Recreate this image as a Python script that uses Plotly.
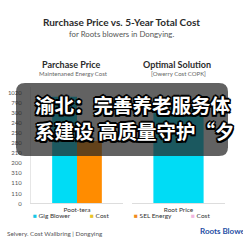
import plotly.graph_objects as go

# ---------------- data ----------------
left_category = ["Poot-tera"]
right_category = ["Root Price"]
gig_blower = [10.6]      # cyan bar, left panel (axis position units)
cost_left = [6.2]        # orange bar, left panel
root_price = [9.9]       # cyan bar, right panel
y_tick_positions = list(range(12))
y_tick_labels = ["0", "110", "110", "310", "200", "210", "280", "250", "240", "300", "790", "1020"]

title = "Rurchase Price vs. 5-Year Total Cost"
subtitle = "for Roots blowers in Dongying."
overlay_lines = ["渝北：完善养老服务体", "系建设 高质量守护“夕"]

CYAN = "#00dcf5"
ORANGE = "#ff8c00"
W = H = 243

def px(x):
    return x / W

def py(y):
    return 1 - y / H

fig = go.Figure()
fig.add_trace(go.Bar(x=left_category, y=gig_blower, marker_color=CYAN, showlegend=False,
                     xaxis="x", yaxis="y", marker_line_width=0))
fig.add_trace(go.Bar(x=left_category, y=cost_left, marker_color=ORANGE, showlegend=False,
                     xaxis="x", yaxis="y", marker_line_width=0))
fig.add_trace(go.Bar(x=right_category, y=root_price, marker_color=CYAN, showlegend=False,
                     xaxis="x2", yaxis="y2", marker_line_width=0))

yrange = [0, 11.59]
fig.update_layout(
    width=W, height=H, margin=dict(l=0, r=0, t=0, b=0),
    paper_bgcolor="white", plot_bgcolor="white",
    barmode="group", bargap=0.46, bargroupgap=0,
    showlegend=False,
    font=dict(family="Lato", color="#333"),
    xaxis=dict(domain=[px(31), px(123)], showgrid=False, zeroline=False,
               showline=True, linecolor="#dddddd", linewidth=1,
               tickfont=dict(size=6.5, color="#333"), ticks="", ticklen=0,
               anchor="y"),
    yaxis=dict(domain=[py(206), py(88)], range=yrange, showgrid=False, zeroline=False,
               showline=True, linecolor="#e6e6e6", linewidth=1,
               tickvals=y_tick_positions, ticktext=y_tick_labels,
               tickfont=dict(size=6, color="#555"),
               ticks="outside", ticklen=7, tickcolor="rgba(0,0,0,0)",
               anchor="x"),
    xaxis2=dict(domain=[px(132), px(225)], showgrid=False, zeroline=False,
                showline=True, linecolor="#dddddd", linewidth=1,
                tickfont=dict(size=6.5, color="#333"), ticks="", anchor="y2"),
    yaxis2=dict(domain=[py(206), py(88)], range=yrange, showgrid=False, zeroline=False,
                showline=False, showticklabels=False, anchor="x2"),
)

ann = []

def text(x, y, s, size, color="#333", bold=False, anchor="center", family="Lato"):
    ann.append(dict(x=px(x), y=py(y), xref="paper", yref="paper", text=s, showarrow=False,
                    xanchor=anchor, yanchor="middle",
                    font=dict(size=size, color=color, family=family,
                              weight=700 if bold else 400)))

text(121, 22, title, 10, "#2b2b2b", bold=True)
text(121, 34, subtitle, 7.8, "#555")
text(71, 65, "Parchase Price", 9, "#2b2b2b", bold=True)
text(73, 74.5, "Maintenaned Energy Cost", 6, "#666")
text(177, 65, "Optimal Solution", 9, "#2b2b2b", bold=True)
text(178, 74.5, "[Owerry Cost COPK]", 6, "#666")
text(65, 94, "Low-bd Unit", 5.5, "#666")
text(177, 97, "High", 5.5, "#666")

# legends
text(31, 218, '<span style="color:#17c7e6">■</span> Gig Blower', 6.5, "#333", anchor="left")
text(88, 218, '<span style="color:#e8c42a">■</span> Cost', 6.5, "#333", anchor="left")
text(132, 218, '<span style="color:#f08a1c">■</span> SEL Energy', 6.5, "#333", anchor="left")
text(189, 218, '<span style="color:#f2b6e0">■</span> Cost', 6.5, "#333", anchor="left")

# footer
text(5, 236, "Selvery. Cost Wallbring | Dongying", 6.3, "#555", anchor="left")
text(198, 234, "Roots Blower", 8, "#1f4fa5", bold=True, anchor="left")

# overlay caption text
shadow = ", ".join(f"{dx}px {dy}px 0 #000" for dx, dy in
                   [(-1.5, -1.5), (1.5, -1.5), (-1.5, 1.5), (1.5, 1.5),
                    (0, 1.6), (0, -1.6), (1.6, 0), (-1.6, 0)])
for i, (line, yc) in enumerate(zip(overlay_lines, [106, 132])):
    ann.append(dict(x=px(33), y=py(yc), xref="paper", yref="paper", text=line,
                    showarrow=False, xanchor="left", yanchor="middle",
                    font=dict(size=19.5, color="white", family="Noto Sans CJK SC",
                              weight=700, shadow=shadow)))

fig.update_layout(annotations=ann)

# translucent dark rounded rectangle overlay
x0, x1, y0, y1, r = 16, 228, 84, 158, 9
def P(x, y):
    return f"{px(x):.5f},{py(y):.5f}"
path = (f"M {P(x0 + r, y0)} L {P(x1 - r, y0)} Q {P(x1, y0)} {P(x1, y0 + r)} "
        f"L {P(x1, y1 - r)} Q {P(x1, y1)} {P(x1 - r, y1)} L {P(x0 + r, y1)} "
        f"Q {P(x0, y1)} {P(x0, y1 - r)} L {P(x0, y0 + r)} Q {P(x0, y0)} {P(x0 + r, y0)} Z")
fig.add_shape(type="path", path=path, xref="paper", yref="paper",
              fillcolor="rgba(38,38,38,0.72)", line=dict(width=0), layer="above")

fig.write_html("out.html")
